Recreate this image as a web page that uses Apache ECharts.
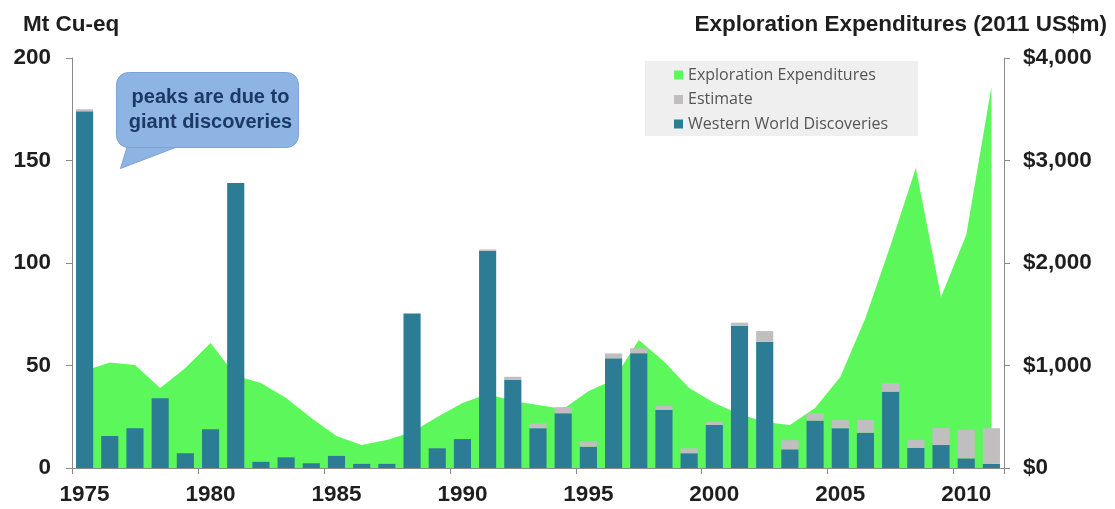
<!DOCTYPE html>
<html>
<head>
<meta charset="utf-8">
<style>
  html, body { margin: 0; padding: 0; background: #ffffff; }
  #chart { width: 1115px; height: 509px; }
</style>
<script src="https://cdn.jsdelivr.net/npm/echarts@6/dist/echarts.min.js"></script>
</head>
<body>
<div id="chart"></div>
<script>
// Years on the category axis
const years = [
  '1975','1976','1977','1978','1979','1980','1981','1982','1983','1984',
  '1985','1986','1987','1988','1989','1990','1991','1992','1993','1994',
  '1995','1996','1997','1998','1999','2000','2001','2002','2003','2004',
  '2005','2006','2007','2008','2009','2010','2011'
];

// Western World discoveries, Mt Cu-eq
const discoveries = [
  174, 15.6, 19.4, 34, 7.2, 18.9, 139, 3, 5.2, 2.3,
  5.9, 2, 2, 75.4, 9.6, 14.1, 106, 43, 19.4, 26.7,
  10.4, 53.5, 56, 28.3, 7.2, 21, 69.3, 61.6, 9.1, 23.1,
  19.4, 17.2, 37.2, 9.8, 11.2, 4.7, 2
];

// Estimated additions stacked on top of discoveries, Mt Cu-eq
const estimate = [
  1, 0, 0, 0, 0, 0, 0, 0, 0, 0,
  0, 0, 0, 0, 0, 0, 0.6, 1.5, 2.4, 3,
  2.4, 2.4, 2.4, 2, 2.4, 1.6, 1.6, 5.2, 4.5, 3.6,
  4, 6.2, 4.2, 4, 8.3, 13.9, 17.4
];

// Exploration expenditures, 2011 US$m
const expenditures = [
  950, 1030, 1005, 780, 975, 1220, 900, 830, 683, 488,
  312, 225, 273, 351, 498, 634, 722, 654, 615, 575,
  750, 860, 1249, 1040, 780, 634, 527, 449, 420, 585,
  888, 1463, 2176, 2927, 1668, 2273, 3717
];

const leftTicks = { min: 0, max: 200, interval: 50 };
const rightTicks = { min: 0, max: 4000, interval: 1000 };

const COLORS = {
  expl: '#5CF75A',
  est: '#C0BEBF',
  disc: '#2C7C96',
  axis: '#8A8A8A',
  text: '#1E1E1E'
};

const BOLD_FONT = 'Liberation Sans, Arial, sans-serif';

const axisFont = {
  fontFamily: BOLD_FONT,
  fontWeight: 'bold',
  fontSize: 22.5,
  color: COLORS.text
};

const chart = echarts.init(document.getElementById('chart'), null, { renderer: 'canvas' });

chart.setOption({
  animation: false,
  backgroundColor: '#ffffff',
  title: [
    {
      text: 'Mt Cu-eq',
      left: 18, top: 8,
      textStyle: { fontFamily: BOLD_FONT, fontWeight: 'bold', fontSize: 22.5, color: COLORS.text }
    },
    {
      text: 'Exploration Expenditures (2011 US$m)',
      right: 3, top: 8,
      textStyle: { fontFamily: BOLD_FONT, fontWeight: 'bold', fontSize: 22.5, color: COLORS.text }
    }
  ],
  legend: {
    orient: 'vertical',
    left: 645, top: 61,
    backgroundColor: '#EFEFEF',
    padding: [4, 30, 2, 29],
    itemGap: 4.5,
    itemWidth: 9, itemHeight: 9,
    icon: 'rect',
    textStyle: { fontFamily: 'Open Sans, sans-serif', fontSize: 16, color: '#555555', lineHeight: 20, padding: [0, 0, 0, 0] },
    data: ['Exploration Expenditures', 'Estimate', 'Western World Discoveries']
  },
  grid: { left: 72, right: 111, top: 58, bottom: 41, containLabel: false },
  xAxis: {
    type: 'category',
    data: years,
    boundaryGap: true,
    axisLine: { show: true, lineStyle: { color: COLORS.axis, width: 1 } },
    axisTick: { show: true, interval: 4, length: 6, lineStyle: { color: COLORS.axis } },
    axisLabel: Object.assign({ interval: 4, margin: 15 }, axisFont),
    splitLine: { show: false }
  },
  yAxis: [
    {
      type: 'value',
      min: leftTicks.min, max: leftTicks.max, interval: leftTicks.interval,
      position: 'left',
      axisLine: { show: true, lineStyle: { color: COLORS.axis, width: 1 } },
      axisTick: { show: true, length: 6, lineStyle: { color: COLORS.axis } },
      axisLabel: Object.assign({ margin: 21 }, axisFont),
      splitLine: { show: false }
    },
    {
      type: 'value',
      min: rightTicks.min, max: rightTicks.max, interval: rightTicks.interval,
      position: 'right',
      axisLine: { show: true, lineStyle: { color: COLORS.axis, width: 1 } },
      axisTick: { show: true, length: 6, lineStyle: { color: COLORS.axis } },
      axisLabel: Object.assign({
        margin: 19,
        formatter: v => '$' + v.toLocaleString('en-US')
      }, axisFont),
      splitLine: { show: false }
    }
  ],
  series: [
    {
      name: 'Exploration Expenditures',
      type: 'line',
      yAxisIndex: 1,
      data: expenditures,
      symbol: 'none',
      smooth: false,
      lineStyle: { width: 0, color: COLORS.expl },
      itemStyle: { color: COLORS.expl },
      areaStyle: { color: COLORS.expl, opacity: 1 },
      z: 1
    },
    {
      name: 'Western World Discoveries',
      type: 'bar',
      yAxisIndex: 0,
      stack: 'finds',
      data: discoveries,
      barWidth: '68%',
      itemStyle: { color: COLORS.disc },
      z: 3
    },
    {
      name: 'Estimate',
      type: 'bar',
      yAxisIndex: 0,
      stack: 'finds',
      data: estimate,
      barWidth: '68%',
      itemStyle: { color: COLORS.est },
      z: 3
    }
  ],
  graphic: [
    {
      type: 'group',
      left: 116, top: 72,
      z: 10,
      children: [
        {
          type: 'polygon',
          shape: { points: [[12, 70], [72, 70], [4, 96]] },
          style: { fill: '#8EB4E3', stroke: '#7DA2D4', lineWidth: 1 }
        },
        {
          type: 'rect',
          shape: { x: 0, y: 0, width: 182, height: 75, r: 12 },
          style: { fill: '#8EB4E3', stroke: '#7DA2D4', lineWidth: 1 }
        },
        {
          type: 'text',
          style: {
            x: 94, y: 37,
            text: 'peaks are due to\ngiant discoveries',
            align: 'center', verticalAlign: 'middle',
            fontFamily: BOLD_FONT,
            fontWeight: 'bold', fontSize: 20, lineHeight: 25,
            fill: '#1B3868'
          }
        }
      ]
    }
  ]
});
</script>
</body>
</html>
